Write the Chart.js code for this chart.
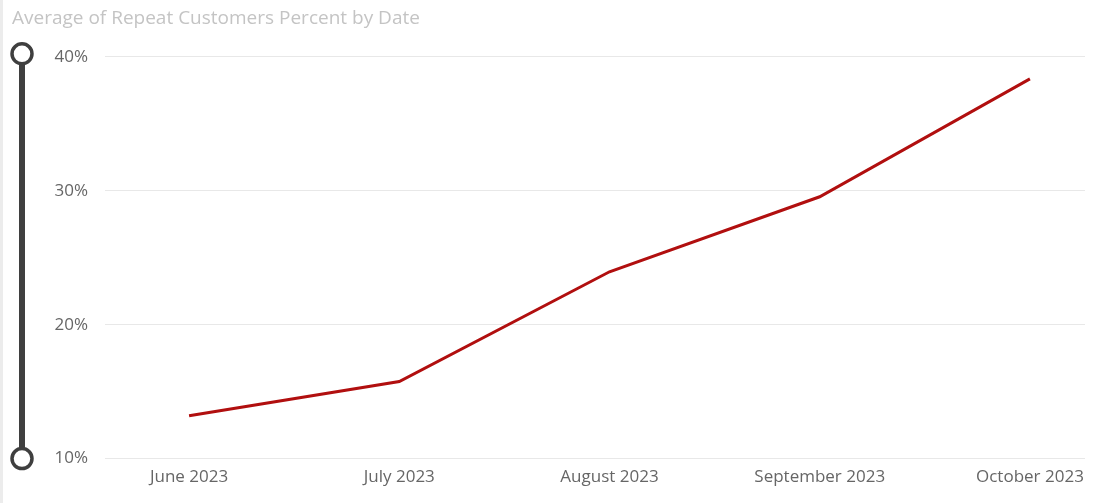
<!DOCTYPE html>
<html>
<head>
<meta charset="utf-8">
<script src="https://cdn.jsdelivr.net/npm/chart.js@4"></script>
<style>
  html, body { margin: 0; padding: 0; background: #fff; }
  #wrap { position: relative; width: 1099px; height: 503px; box-sizing: border-box; border-left: 3px solid #ececec; }
</style>
</head>
<body>
<div id="wrap"><canvas id="myChart"></canvas></div>
<script>
const months = ['June 2023', 'July 2023', 'August 2023', 'September 2023', 'October 2023'];
const repeatPercent = [13.2, 15.75, 23.95, 29.55, 38.35];
const yTicks = [10, 20, 30, 40];

const font = "'Open Sans', 'Noto Sans', sans-serif";

// vertical zoom slider on the left, like in Power BI
const sliderPlugin = {
  id: 'slider',
  afterDraw(chart) {
    const y = chart.scales.y;
    const c = chart.ctx;
    const x = 19;
    const top = y.getPixelForValue(y.max) - 3;
    const bottom = y.getPixelForValue(y.min);
    c.save();
    c.strokeStyle = '#3f3f3f';
    c.lineWidth = 6;
    c.beginPath();
    c.moveTo(x, top);
    c.lineTo(x, bottom);
    c.stroke();
    c.lineWidth = 3.5;
    c.fillStyle = '#fff';
    [top, bottom].forEach(py => {
      c.beginPath();
      c.arc(x, py, 10, 0, Math.PI * 2);
      c.fill();
      c.stroke();
    });
    c.restore();
  }
};

const ctx = document.getElementById('myChart');
let chart = new Chart(ctx, {
  type: 'line',
  data: {
    datasets: [{
      label: 'Average of Repeat Customers Percent',
      data: repeatPercent.map((v, i) => ({ x: i, y: v })),
      borderColor: '#b10f0f',
      borderWidth: 3,
      pointRadius: 0,
      tension: 0,
      fill: false
    }]
  },
  options: {
    responsive: true,
    maintainAspectRatio: false,
    animation: false,
    layout: { padding: { left: 9, right: 14, top: 0, bottom: 16 } },
    plugins: {
      legend: { display: false },
      tooltip: { enabled: false },
      title: {
        display: true,
        text: 'Average of Repeat Customers Percent by Date',
        align: 'start',
        color: '#c4c4c4',
        font: { family: font, size: 19, weight: 'normal' },
        padding: { top: 7, bottom: 27 }
      }
    },
    scales: {
      x: {
        type: 'linear',
        min: -0.4,
        max: 4.262,
        grid: { display: false },
        border: { display: false },
        ticks: {
          stepSize: 1,
          includeBounds: false,
          autoSkip: false,
          maxRotation: 0,
          color: '#666',
          padding: 0,
          font: { family: font, size: 17 },
          callback: v => Number.isInteger(v) && months[v] ? months[v] : ''
        }
      },
      y: {
        min: 10,
        max: 40,
        afterFit: s => { s.width = 93; },
        afterBuildTicks: s => { s.ticks = yTicks.map(v => ({ value: v })); },
        grid: { color: '#e8e8e8', lineWidth: 1, drawTicks: false },
        border: { display: false },
        ticks: {
          color: '#666',
          padding: 17,
          font: { family: font, size: 17 },
          callback: v => v + '%'
        }
      }
    }
  },
  plugins: [sliderPlugin]
});
</script>
</body>
</html>
